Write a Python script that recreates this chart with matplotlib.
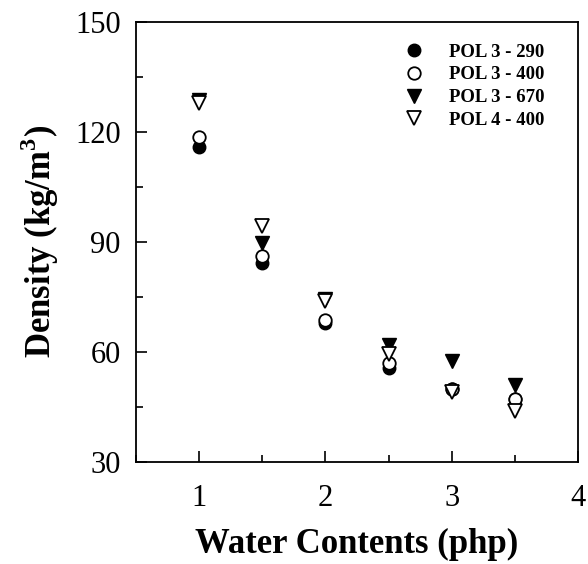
import matplotlib.pyplot as plt
from matplotlib.ticker import MultipleLocator

plt.rcParams['font.family'] = 'Liberation Serif'
plt.rcParams['mathtext.fontset'] = 'custom'
plt.rcParams['mathtext.rm'] = 'Liberation Serif:bold'
plt.rcParams['mathtext.bf'] = 'Liberation Serif:bold'

### data (water contents, density)
water = [1, 1.5, 2, 2.5, 3, 3.5]
pol3_290 = [116, 84.3, 67.9, 55.5, 49.8, 47.2]
pol3_400 = [118.6, 86.3, 68.8, 57, 49.8, 47.2]
pol3_670 = [128.8, 89.7, 74.4, 61.9, 57.5, 51]
pol4_400 = [127.8, 94.3, 74, 59.5, 49.2, 44]
labels = ['POL 3 - 290', 'POL 3 - 400', 'POL 3 - 670', 'POL 4 - 400']

fig = plt.figure(figsize=(5.88, 5.64), dpi=100)
ax = fig.add_axes([0.231, 0.181, 0.752, 0.78])

ms = 9
ax.plot(water, pol3_290, 'o', ms=ms, mfc='black', mec='black', label=labels[0])
ax.plot(water, pol3_400, 'o', ms=ms, mfc='white', mec='black', mew=1.3, label=labels[1])
ax.plot(water, pol3_670, 'v', ms=ms + 1, mfc='black', mec='black', label=labels[2])
ax.plot(water, pol4_400, 'v', ms=ms + 1, mfc='white', mec='black', mew=1.3, label=labels[3])

ax.set_xlim(0.5, 4)
ax.set_ylim(30, 150)
ax.xaxis.set_major_locator(MultipleLocator(1))
ax.xaxis.set_minor_locator(MultipleLocator(0.5))
ax.yaxis.set_major_locator(MultipleLocator(30))
ax.yaxis.set_minor_locator(MultipleLocator(15))
ax.tick_params(which='both', direction='in', top=False, right=False,
               labelsize=22, width=1.2)
ax.tick_params(which='major', length=8)
ax.tick_params(which='minor', length=5)
ax.tick_params(axis='x', which='major', pad=16)
ax.tick_params(axis='y', which='major', pad=11)
for s in ax.spines.values():
    s.set_linewidth(1.3)

ax.set_xlabel('Water Contents (php)', fontsize=25, fontweight='bold', labelpad=11)
ax.set_ylabel('Density (kg/m$^{3}$)', fontsize=25, fontweight='bold', labelpad=10)

ax.legend(loc='upper right', bbox_to_anchor=(0.925, 0.951), borderaxespad=0,
          borderpad=0, frameon=False,
          prop={'family': 'Liberation Serif', 'weight': 'bold', 'size': 13.5},
          handletextpad=0.9, labelspacing=0.3, markerscale=1.0)

plt.savefig('out.png')
